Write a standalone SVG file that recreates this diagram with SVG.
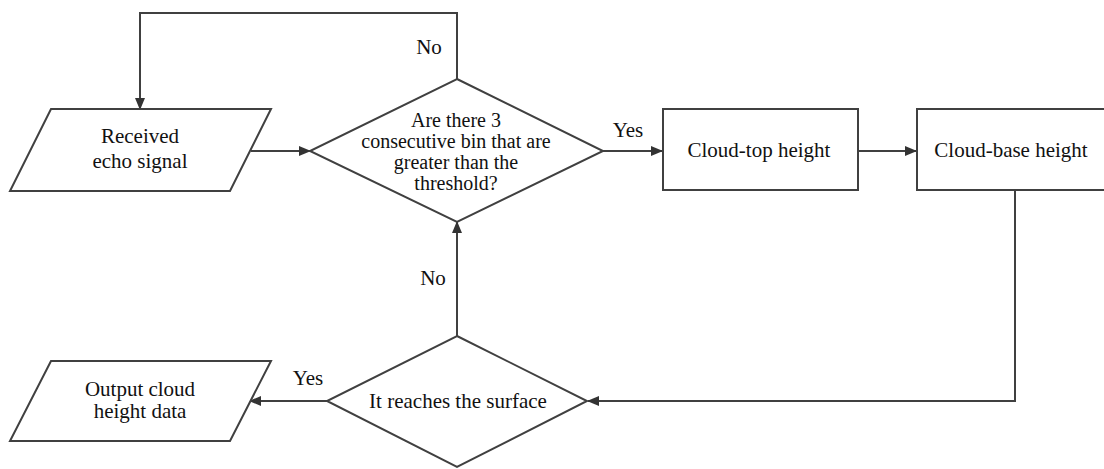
<svg xmlns="http://www.w3.org/2000/svg" width="1104" height="469" viewBox="0 0 1104 469">
  <style>
    .shape { fill: #ffffff; stroke: #404040; stroke-width: 2; }
    .conn { fill: none; stroke: #404040; stroke-width: 2; }
    .t { font-family: 'Liberation Serif', 'DejaVu Serif', serif; font-size: 21px; fill: #111111; text-anchor: middle; }
    .d { font-size: 20px; }
  </style>
  <defs>
    <marker id="arrow" markerUnits="userSpaceOnUse" markerWidth="12" markerHeight="10" refX="11" refY="5" orient="auto">
      <path d="M0,0 L12,5 L0,10 z" fill="#333333"/>
    </marker>
  </defs>
  <rect width="1104" height="469" fill="#ffffff"/>

  <g id="connectors">
    <polyline class="conn" points="457,79 457,13 140,13 140,109" marker-end="url(#arrow)"/>
    <line class="conn" x1="251" y1="151" x2="310" y2="151" marker-end="url(#arrow)"/>
    <line class="conn" x1="603" y1="151" x2="662" y2="151" marker-end="url(#arrow)"/>
    <line class="conn" x1="858" y1="151" x2="916" y2="151" marker-end="url(#arrow)"/>
    <polyline class="conn" points="1015,190 1015,401 588,401" marker-end="url(#arrow)"/>
    <line class="conn" x1="457" y1="336" x2="457" y2="222" marker-end="url(#arrow)"/>
    <line class="conn" x1="327" y1="401" x2="250" y2="401" marker-end="url(#arrow)"/>
    <text class="t" font-family="Liberation Serif, serif" x="429" y="54">No</text>
    <text class="t" font-family="Liberation Serif, serif" x="628" y="137">Yes</text>
    <text class="t" font-family="Liberation Serif, serif" x="433" y="285">No</text>
    <text class="t" font-family="Liberation Serif, serif" x="308" y="385">Yes</text>
  </g>

  <g id="received">
    <polygon class="shape" points="51,109 271,109 230,191 10,191"/>
    <text class="t" x="140" y="143">Received</text>
    <text class="t" x="140" y="168">echo signal</text>
  </g>

  <g id="decision1">
    <polygon class="shape" points="457,79 603,151 457,222 310,151"/>
    <text class="t d" x="456" y="127">Are there 3</text>
    <text class="t d" x="456" y="148">consecutive bin that are</text>
    <text class="t d" x="456" y="169">greater than the</text>
    <text class="t d" x="456" y="190">threshold?</text>
  </g>

  <g id="cloudtop">
    <rect class="shape" x="663" y="109" width="195" height="81"/>
    <text class="t" x="759" y="157">Cloud-top height</text>
  </g>

  <g id="cloudbase">
    <rect class="shape" x="917" y="109" width="195" height="81"/>
    <text class="t" x="1011" y="157">Cloud-base height</text>
  </g>

  <g id="decision2">
    <polygon class="shape" points="457,336 587,401 457,467 327,401"/>
    <text class="t" x="458" y="408">It reaches the surface</text>
  </g>

  <g id="output">
    <polygon class="shape" points="51,361 271,361 230,441 10,441"/>
    <text class="t" x="140" y="396">Output cloud</text>
    <text class="t" x="140" y="418">height data</text>
  </g>
</svg>
